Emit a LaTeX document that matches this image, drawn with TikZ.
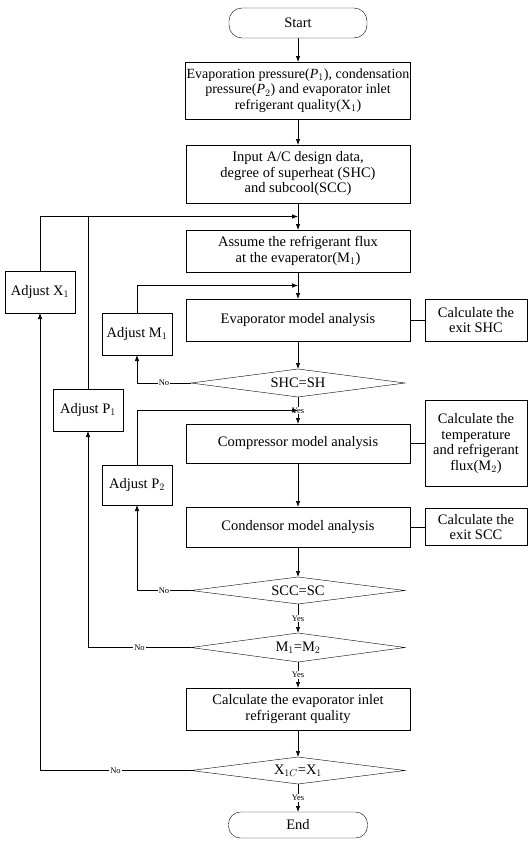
\documentclass[tikz,border=0pt]{standalone}
\usepackage{fontspec}
\setmainfont{Liberation Serif}
\usetikzlibrary{shapes.geometric,arrows.meta,positioning,calc}

\begin{document}
\begin{tikzpicture}[
    x=1pt, y=1pt,
    node distance=27pt,
    term/.style={rectangle, draw, rounded corners=13pt, minimum width=138pt, minimum height=30pt, outer sep=0pt, font=\fontsize{14.5}{15.5}\selectfont},
    proc/.style={rectangle, draw, minimum width=224pt, minimum height=42pt, inner sep=1pt, outer sep=0pt, align=center, font=\fontsize{14.5}{15.5}\selectfont},
    side/.style={rectangle, draw, minimum width=102pt, minimum height=42pt, inner sep=1pt, outer sep=0pt, align=center, font=\fontsize{14.5}{15.5}\selectfont},
    adj/.style={rectangle, draw, minimum width=70pt, minimum height=42pt, inner sep=2pt, outer sep=0pt, font=\fontsize{14.5}{15.5}\selectfont},
    test/.style={diamond, draw, aspect=7.5, minimum width=214pt, minimum height=28pt, inner sep=1pt, outer sep=0pt, font=\fontsize{14.5}{15.5}\selectfont},
    arrow/.style={-{Latex[length=6pt,width=4.5pt]}, line width=0.7pt},
    link/.style={line width=0.7pt},
    lbl/.style={fill=white, inner sep=1pt, font=\fontsize{8.5}{9}\selectfont}
]
  \useasboundingbox (0,0) rectangle (528,-841);

  % main column
  \node[term] (start) at (298,-23) {Start};
  \node[proc, below=24pt of start, minimum height=57pt, font=\fontsize{14}{15.5}\selectfont] (init) {Evaporation pressure(\textit{P}$_1$), condensation\\pressure(\textit{P}$_2$) and evaporator inlet\\refrigerant quality(X$_1$)};
  \node[proc, below=26pt of init, minimum height=58pt] (input) {Input A/C design data,\\degree of superheat (SHC)\\and subcool(SCC)};
  \node[proc, below=27pt of input] (assume) {Assume the refrigerant flux\\at the evaperator(M$_1$)};
  \node[proc, below=27pt of assume] (evap) {Evaporator model analysis};
  \node[test, below=28pt of evap] (shc) {SHC=SH};
  \node[proc, below=27pt of shc, minimum height=39pt] (comp) {Compressor model analysis};
  \node[proc, below=44pt of comp, minimum height=40pt] (cond) {Condensor model analysis};
  \node[test, below=30pt of cond, minimum height=27pt] (scc) {SCC=SC};
  \node[test, below=29pt of scc, minimum height=29pt] (mm) {M$_1$=M$_2$};
  \node[proc, below=26pt of mm] (qual) {Calculate the evaporator inlet\\refrigerant quality};
  \node[test, below=27pt of qual, minimum height=27pt] (xx) {X$_{1C}$=X$_1$};
  \node[term, below=28pt of xx, minimum height=26pt, minimum width=139pt, rounded corners=12pt] (end) {End};

  % side results
  \node[side, right=15pt of evap] (exitshc) {Calculate the\\exit SHC};
  \node[side, right=15pt of comp, minimum height=86pt] (tempflux) {Calculate the\\temperature\\and refrigerant\\flux(M$_2$)};
  \node[side, right=15pt of cond, minimum height=37pt] (exitscc) {Calculate the\\exit SCC};

  % adjustments
  \node[adj] (adjx) at (40,-292) {Adjust X$_1$};
  \node[adj] (adjm) at (137,-334) {Adjust M$_1$};
  \node[adj] (adjp1) at (88,-410) {Adjust P$_1$};
  \node[adj, minimum height=40pt] (adjp2) at (137,-485) {Adjust P$_2$};

  \coordinate (j0) at ($(input.south)!0.5!(assume.north)$);
  \coordinate (j1) at ($(assume.south)!0.5!(evap.north)$);
  \coordinate (j2) at ($(shc.south)!0.5!(comp.north)$);

  \draw[arrow] (start) -- (init);
  \draw[arrow] (init) -- (input);
  \draw[arrow] (input) -- (assume);
  \draw[arrow] (assume) -- (evap);
  \draw[arrow] (evap) -- (shc);
  \draw[arrow] (shc) -- node[lbl]{Yes} (comp);
  \draw[arrow] (comp) -- (cond);
  \draw[arrow] (cond) -- (scc);
  \draw[arrow] (scc) -- node[lbl]{Yes} (mm);
  \draw[arrow] (mm) -- node[lbl]{Yes} (qual);
  \draw[arrow] (qual) -- (xx);
  \draw[arrow] (xx) -- node[lbl]{Yes} (end);

  \draw[link] (evap) -- (exitshc);
  \draw[link] (comp) -- (tempflux);
  \draw[link] (cond) -- (exitscc);

  % loops back
  \draw[arrow] (shc.west) -- node[lbl]{No} (shc.west -| adjm) -- (adjm.south);
  \draw[arrow] (adjm.north) |- (j1);
  \draw[arrow] (scc.west) -- node[lbl]{No} (scc.west -| adjp2) -- (adjp2.south);
  \draw[arrow] (adjp2.north) |- (j2);
  \draw[arrow] (mm.west) -- node[lbl]{No} (mm.west -| adjp1) -- (adjp1.south);
  \draw[link] (adjp1.north) -- (adjp1.north |- j0);
  \draw[arrow] (xx.west) -- node[lbl]{No} (xx.west -| adjx) -- (adjx.south);
  \draw[arrow] (adjx.north) |- (j0);
\end{tikzpicture}
\end{document}
